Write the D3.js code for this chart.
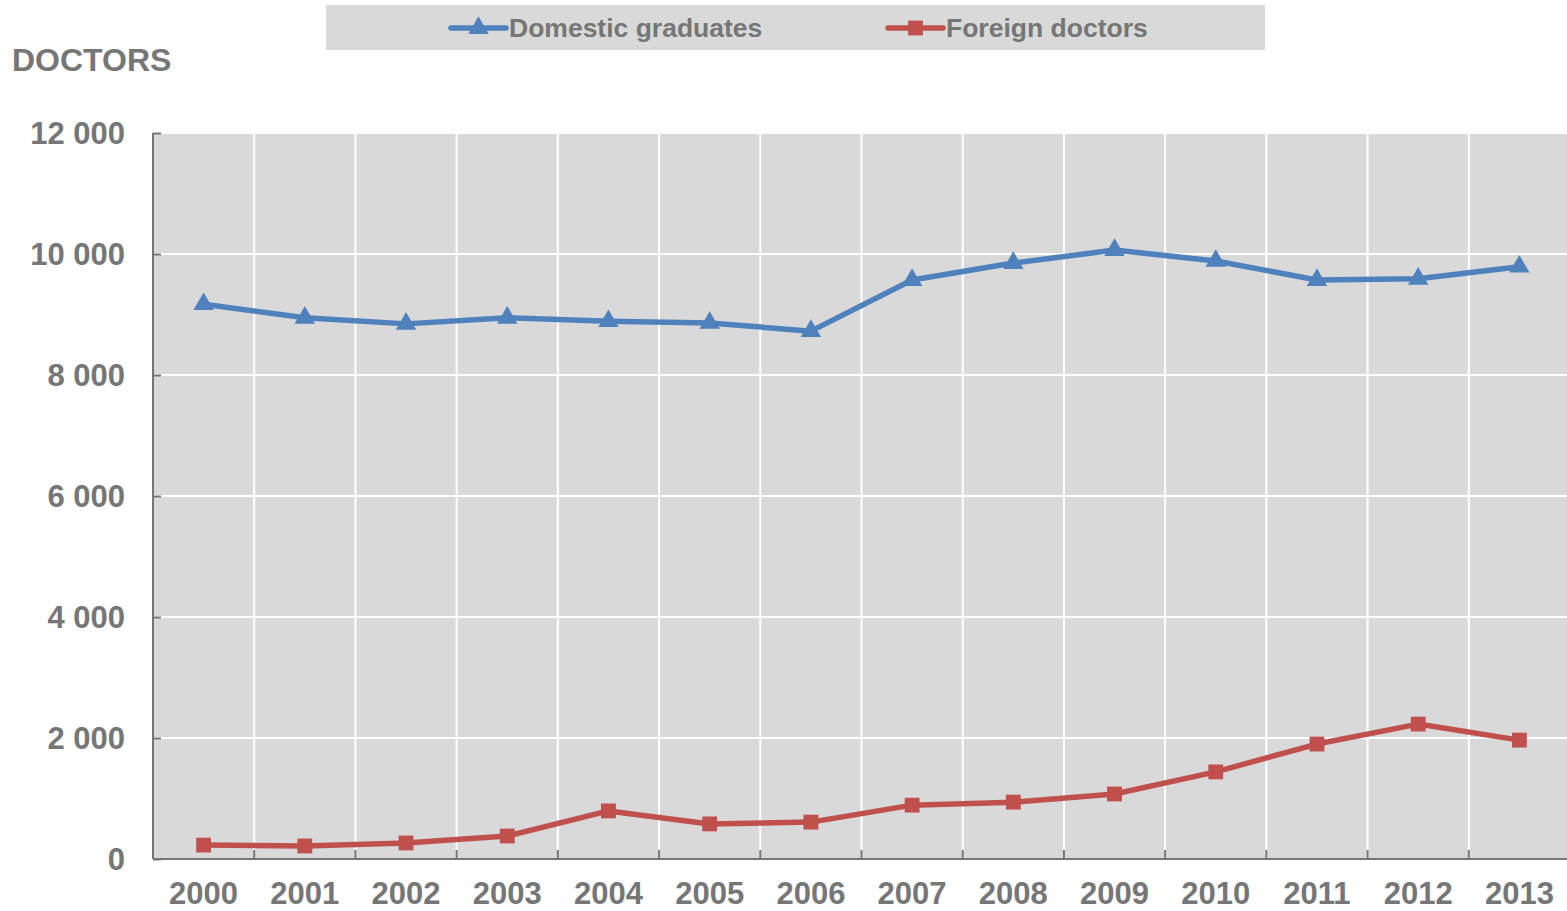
<!DOCTYPE html>
<html>
<head>
<meta charset="utf-8">
<script src="https://cdn.jsdelivr.net/npm/d3@7"></script>
<style>
  body { margin: 0; background: #fff; }
  text { font-family: "Liberation Sans", Arial, sans-serif; fill: #767676; font-weight: bold; }
</style>
</head>
<body>
<div class="visualisation"></div>
<script>
// Chart data
const years = ["2000", "2001", "2002", "2003", "2004", "2005", "2006",
    "2007", "2008", "2009", "2010", "2011", "2012", "2013"];
const domestic = [9170, 8945, 8845, 8945, 8890, 8860, 8725,
    9570, 9850, 10065, 9885, 9570, 9590, 9790];
const foreign = [230, 215, 265, 380, 795, 580, 610,
    890, 940, 1075, 1440, 1900, 2230, 1965];
const yTicks = [0, 2000, 4000, 6000, 8000, 10000, 12000];

const width = 1567;
const height = 911;
const margin = { top: 133, right: -3, bottom: 52, left: 153 };

const svg = d3.select(".visualisation")
    .append("svg")
    .attr("width", width)
    .attr("height", height);

const x = d3.scaleBand()
    .domain(years)
    .range([margin.left, width - margin.right]);

const y = d3.scaleLinear()
    .domain([0, 12000])
    .range([height - margin.bottom, margin.top]);

const fmt = v => d3.format(",")(v).replace(/,/g, " ");

// plot background
svg.append("rect")
    .attr("x", margin.left)
    .attr("y", y(12000))
    .attr("width", width - margin.left)
    .attr("height", y(0) - y(12000))
    .attr("fill", "#d9d9d9");

// horizontal grid
svg.append("g")
    .selectAll("line")
    .data(yTicks.filter(d => d > 0))
    .join("line")
    .attr("x1", margin.left)
    .attr("x2", width)
    .attr("y1", d => y(d))
    .attr("y2", d => y(d))
    .attr("stroke", "#fff")
    .attr("stroke-width", 2);

// vertical grid at band boundaries
svg.append("g")
    .selectAll("line")
    .data(years.slice(1))
    .join("line")
    .attr("x1", d => x(d))
    .attr("x2", d => x(d))
    .attr("y1", y(12000))
    .attr("y2", y(0))
    .attr("stroke", "#fff")
    .attr("stroke-width", 2);

// y axis
const yAxis = svg.append("g")
    .attr("transform", `translate(${margin.left},0)`)
    .call(d3.axisRight(y).tickValues(yTicks).tickSize(8).tickFormat(""));
yAxis.select(".domain").attr("stroke", "#767676").attr("stroke-width", 2).attr("d", `M0,${y(12000)}V${y(0)}`);
yAxis.selectAll(".tick line").attr("stroke", "#767676").attr("stroke-width", 2);

svg.append("g")
    .selectAll("text")
    .data(yTicks)
    .join("text")
    .attr("x", 125)
    .attr("y", d => y(d) + 11)
    .attr("text-anchor", "end")
    .attr("font-size", 31)
    .text(fmt);

// x axis
const xAxis = svg.append("g")
    .attr("transform", `translate(0,${y(0)})`)
    .call(d3.axisTop(x).tickSize(0).tickFormat(""));
xAxis.select(".domain").attr("stroke", "#767676").attr("stroke-width", 2).attr("d", `M${margin.left},0H${width}`);
xAxis.selectAll(".tick").remove();

svg.append("g")
    .selectAll("line")
    .data(years.slice(1))
    .join("line")
    .attr("x1", d => x(d))
    .attr("x2", d => x(d))
    .attr("y1", y(0) - 9)
    .attr("y2", y(0))
    .attr("stroke", "#767676")
    .attr("stroke-width", 2);

svg.append("g")
    .selectAll("text")
    .data(years)
    .join("text")
    .attr("x", d => x(d) + x.bandwidth() / 2)
    .attr("y", 904)
    .attr("text-anchor", "middle")
    .attr("font-size", 31)
    .text(d => d);

// axis title
svg.append("text")
    .attr("x", 12)
    .attr("y", 71)
    .attr("font-size", 32)
    .text("DOCTORS");

// series
const series = [
    { name: "Domestic graduates", values: domestic, color: "#4f81bd", symbol: d3.symbolTriangle, size: 180 },
    { name: "Foreign doctors", values: foreign, color: "#c0504d", symbol: d3.symbolSquare, size: 220 }
];

const line = d3.line()
    .x((d, i) => x(years[i]) + x.bandwidth() / 2)
    .y(d => y(d));

series.forEach(s => {
    svg.append("path")
        .datum(s.values)
        .attr("fill", "none")
        .attr("stroke", s.color)
        .attr("stroke-width", 5.5)
        .attr("stroke-linejoin", "round")
        .attr("d", line);

    svg.append("g")
        .selectAll("path")
        .data(s.values)
        .join("path")
        .attr("transform", (d, i) => `translate(${x(years[i]) + x.bandwidth() / 2},${y(d)})`)
        .attr("d", d3.symbol().type(s.symbol).size(s.size))
        .attr("fill", s.color);
});

// legend
const legend = svg.append("g");
legend.append("rect")
    .attr("x", 326)
    .attr("y", 5)
    .attr("width", 939)
    .attr("height", 45)
    .attr("fill", "#d9d9d9");

const legendX = [451, 888];
series.forEach((s, i) => {
    const g = legend.append("g").attr("transform", `translate(${legendX[i]},28)`);
    g.append("line")
        .attr("x1", 0)
        .attr("x2", 55)
        .attr("stroke", s.color)
        .attr("stroke-width", 5.5)
        .attr("stroke-linecap", "round");
    g.append("path")
        .attr("transform", "translate(27.5,0)")
        .attr("d", d3.symbol().type(s.symbol).size(s.size))
        .attr("fill", s.color);
    g.append("text")
        .attr("x", 58)
        .attr("y", 9)
        .attr("font-size", 26.5)
        .text(s.name);
});
</script>
</body>
</html>
